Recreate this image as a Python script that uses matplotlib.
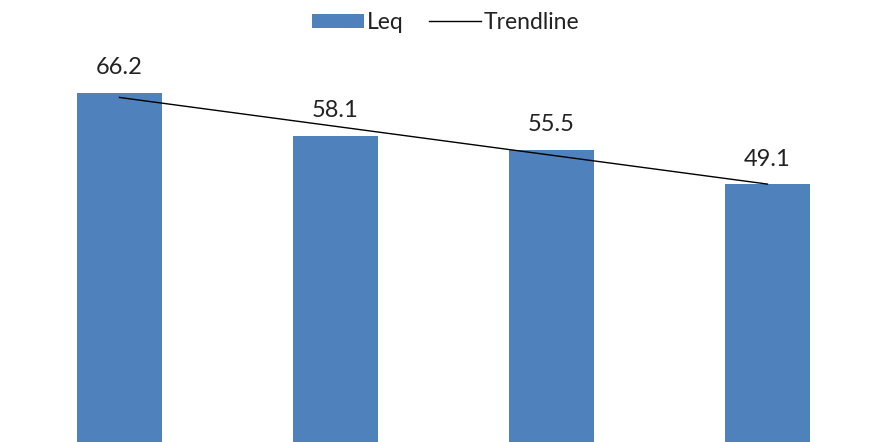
import matplotlib
matplotlib.use("Agg")
import matplotlib.pyplot as plt
import numpy as np
from matplotlib.patches import Patch
from matplotlib.lines import Line2D

categories = ["1", "2", "3", "4"]
leq = [66.2, 58.1, 55.5, 49.1]
labels = ["66.2", "58.1", "55.5", "49.1"]

plt.rcParams['font.family'] = ['Lato', 'DejaVu Sans']

fig = plt.figure(figsize=(8.69, 4.42), dpi=100)
ax = fig.add_axes([0, 0, 1, 1])
x = np.arange(len(leq))
ax.bar(x, leq, width=0.394, color="#4F81BD", zorder=2)

coef = np.polyfit(x, leq, 1)
trend = np.polyval(coef, x)
ax.plot([x[0], x[-1]], [trend[0], trend[-1]], color="black", lw=1.0, zorder=3)

for xi, v, lab in zip(x, leq, labels):
    ax.annotate(lab, (xi, v), xytext=(0, 13.5), textcoords="offset points",
                ha="center", va="baseline", fontsize=17, color="#222222")

ax.set_xlim(-0.553, 3.47)
ax.set_ylim(1.0, 83.5)
ax.axis("off")

handles = [Patch(facecolor="#4F81BD", edgecolor="none"),
           Line2D([0], [0], color="black", lw=1.0)]
leg = fig.legend(handles, ["Leq", "Trendline"], loc="upper center",
                 bbox_to_anchor=(0.513, 1.02), ncol=2, frameon=False,
                 fontsize=16.5, handlelength=2.25, handleheight=0.55,
                 handletextpad=0.15, columnspacing=1.1)
for t in leg.get_texts():
    t.set_color("#222222")

fig.savefig("out.png", dpi=100)
